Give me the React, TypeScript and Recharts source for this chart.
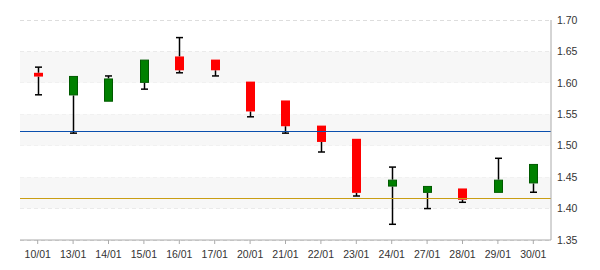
import { ComposedChart, Bar, XAxis, YAxis, CartesianGrid, ReferenceLine, ReferenceArea } from 'recharts';

const dates = ['10/01', '13/01', '14/01', '15/01', '16/01', '17/01', '20/01', '21/01', '22/01', '23/01', '24/01', '27/01', '28/01', '29/01', '30/01'];
const opens = [1.616, 1.58, 1.57, 1.6, 1.642, 1.637, 1.602, 1.572, 1.532, 1.511, 1.435, 1.425, 1.432, 1.425, 1.44];
const closes = [1.61, 1.611, 1.607, 1.637, 1.62, 1.62, 1.5545, 1.531, 1.506, 1.425, 1.446, 1.436, 1.414, 1.446, 1.471];
const highs = [1.625, 1.611, 1.611, 1.637, 1.672, 1.637, 1.602, 1.572, 1.532, 1.511, 1.466, 1.436, 1.432, 1.48, 1.471];
const lows = [1.581, 1.52, 1.57, 1.59, 1.616, 1.611, 1.546, 1.52, 1.49, 1.42, 1.375, 1.4, 1.41, 1.425, 1.426];

const yTicks = [1.35, 1.4, 1.45, 1.5, 1.55, 1.6, 1.65, 1.7];
const shadedBands = [[1.6, 1.65], [1.5, 1.55], [1.4, 1.45]];
const blueLevel = 1.522;
const goldLevel = 1.416;

const data = dates.map((date, i) => ({
  date,
  open: opens[i],
  close: closes[i],
  high: highs[i],
  low: lows[i],
  range: [lows[i], highs[i]],
}));

const CAP = 7;

function Candle(props: any) {
  const { x, y, width, height, payload } = props;
  if (x == null || y == null) return null;
  const { open, close, high, low } = payload;
  const h = Math.abs(height);
  const top = height < 0 ? y + height : y;
  const ppu = h / (high - low);
  const yOf = (v: number) => top + (high - v) * ppu;
  const bodyTop = yOf(Math.max(open, close));
  const bodyBot = yOf(Math.min(open, close));
  const cx = Math.round(x + width / 2) + 0.5;
  const up = close >= open;
  const hi = yOf(high);
  const lo = yOf(low);

  return (
    <g>
      {bodyTop - hi > 0.5 && (
        <g stroke="#000" strokeWidth={1.5}>
          <line x1={cx} x2={cx} y1={hi} y2={bodyTop} />
          <line x1={cx - CAP / 2} x2={cx + CAP / 2} y1={hi} y2={hi} />
        </g>
      )}
      {lo - bodyBot > 0.5 && (
        <g stroke="#000" strokeWidth={1.5}>
          <line x1={cx} x2={cx} y1={bodyBot} y2={lo} />
          <line x1={cx - CAP / 2} x2={cx + CAP / 2} y1={lo} y2={lo} />
        </g>
      )}
      {up ? (
        <rect x={cx - 4} y={bodyTop + 0.5} width={8} height={Math.max(bodyBot - bodyTop - 1, 1)} fill="#008000" stroke="#005a00" strokeWidth={1} />
      ) : (
        <rect x={cx - 4.5} y={bodyTop} width={9} height={Math.max(bodyBot - bodyTop, 1)} fill="#ff0000" />
      )}
    </g>
  );
}

export default function App() {
  return (
    <div style={{ position: 'absolute', left: 0, top: 0, fontFamily: 'Arial, "Liberation Sans", sans-serif' }}>
      <ComposedChart width={600} height={270} data={data} margin={{ top: 20, right: 0, bottom: 0, left: 20 }}>
        {shadedBands.map(([a, b]) => (
          <ReferenceArea key={a} y1={a} y2={b} fill="#f7f7f7" fillOpacity={1} stroke="none" ifOverflow="visible" />
        ))}
        <CartesianGrid vertical={false} stroke="#dddddd" strokeDasharray="4 3" shapeRendering="crispEdges" />
        <XAxis
          dataKey="date"
          height={30}
          stroke="#aaaaaa"
          tickSize={4}
          tickMargin={7}
          tick={{ fill: '#333', fontSize: 10.5 }}
          interval={0}
        />
        <YAxis
          orientation="right"
          width={49}
          domain={[1.35, 1.7]}
          ticks={yTicks}
          stroke="#aaaaaa"
          tickSize={0}
          tickMargin={6}
          tickFormatter={(v: number) => v.toFixed(2)}
          tick={{ fill: '#333', fontSize: 10.5, textAnchor: 'start' }}
        />
        <ReferenceLine y={blueLevel} stroke="#0a4fae" strokeWidth={1} shapeRendering="crispEdges" />
        <ReferenceLine y={goldLevel} stroke="#c99e14" strokeWidth={1} shapeRendering="crispEdges" />
        <Bar dataKey="range" barSize={9} shape={<Candle />} isAnimationActive={false} />
      </ComposedChart>
    </div>
  );
}
